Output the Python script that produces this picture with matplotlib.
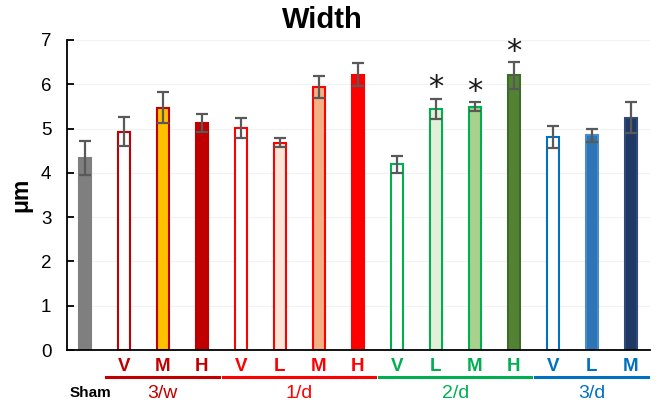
import numpy as np
import matplotlib.pyplot as plt

plt.rcParams['font.family'] = ['Liberation Sans', 'DejaVu Sans']

# bar data, left to right
bar_letters = ['', 'V', 'M', 'H', 'V', 'L', 'M', 'H', 'V', 'L', 'M', 'H', 'V', 'L', 'M']
means = [4.34, 4.93, 5.47, 5.12, 5.02, 4.68, 5.93, 6.21, 4.19, 5.44, 5.49, 6.20, 4.81, 4.85, 5.24]
errs = [0.39, 0.33, 0.35, 0.20, 0.23, 0.10, 0.25, 0.26, 0.20, 0.23, 0.10, 0.30, 0.25, 0.15, 0.35]
signif = [False] * 9 + [True, True, True] + [False] * 3

face_colors = ['#7F7F7F',
               'white', '#FFC000', '#C00000',
               'white', '#FBE5D6', '#F4B183', '#FF0000',
               'white', '#E2F0D9', '#A9D18E', '#548235',
               'white', '#2E75B6', '#203864']
edge_colors = ['#7F7F7F',
               '#C00000', '#C00000', '#C00000',
               '#FF0000', '#FF0000', '#FF0000', '#FF0000',
               '#00B050', '#00B050', '#00B050', '#3E6B27',
               '#0070C0', '#4A8AC9', '#2F4A7A']

# groups: (label, first bar, last bar, colour)
groups = [('3/w', 1, 3, '#C00000'),
          ('1/d', 4, 7, '#FF0000'),
          ('2/d', 8, 11, '#00B050'),
          ('3/d', 12, 14, '#0070C0')]

x = np.arange(len(means))

fig = plt.figure(figsize=(6.61, 4.08), dpi=100)
ax = fig.add_axes([0.101, 0.142, 0.882, 0.760])

ax.bar(x, means, width=0.3, color=face_colors, edgecolor=edge_colors, linewidth=1.5, zorder=2)
ax.errorbar(x, means, yerr=errs, fmt='none', ecolor='#595959', elinewidth=1.6,
            capsize=4.5, capthick=1.6, zorder=3)

for xi, m, e, s in zip(x, means, errs, signif):
    if s:
        ax.text(xi, m + e + 0.25, '*', ha='center', va='center', fontsize=22,
                color='#1A1A1A', family='DejaVu Sans')

ax.set_xlim(-0.46, 14.49)
ax.set_ylim(0, 7)
ax.set_yticks(range(8))
ax.tick_params(axis='y', direction='in', length=5, width=1.3, labelsize=13.5, pad=11)
ax.set_xticks([])
ax.grid(axis='y', color='#F2F2F2', linewidth=0.8, zorder=0)
ax.set_axisbelow(True)
for side in ['top', 'right']:
    ax.spines[side].set_visible(False)
ax.spines['left'].set_linewidth(1.3)
ax.spines['bottom'].set_linewidth(1.3)

fig.text(0.487, 0.952, 'Width', ha='center', va='center', fontsize=21, fontweight='bold')
ax.set_ylabel('μm', fontsize=16.5, fontweight='bold', labelpad=6)

# labels under the bars
trans = ax.get_xaxis_transform()
for label, a, b, col in groups:
    for i in range(a, b + 1):
        ax.text(i, -0.052, bar_letters[i], transform=trans, ha='center', va='center',
                fontsize=13.5, fontweight='bold', color=col)
    ax.plot([a - 0.45, b + 0.45], [-0.087, -0.087], transform=trans, color=col,
            linewidth=2.2, clip_on=False)
    ax.text((a + b) / 2, -0.14, label, transform=trans, ha='center', va='center',
            fontsize=14, color=col)
ax.text(0.15, -0.14, 'Sham', transform=trans, ha='center', va='center',
        fontsize=11, fontweight='bold', color='black')

fig.savefig('out.png', dpi=100)
